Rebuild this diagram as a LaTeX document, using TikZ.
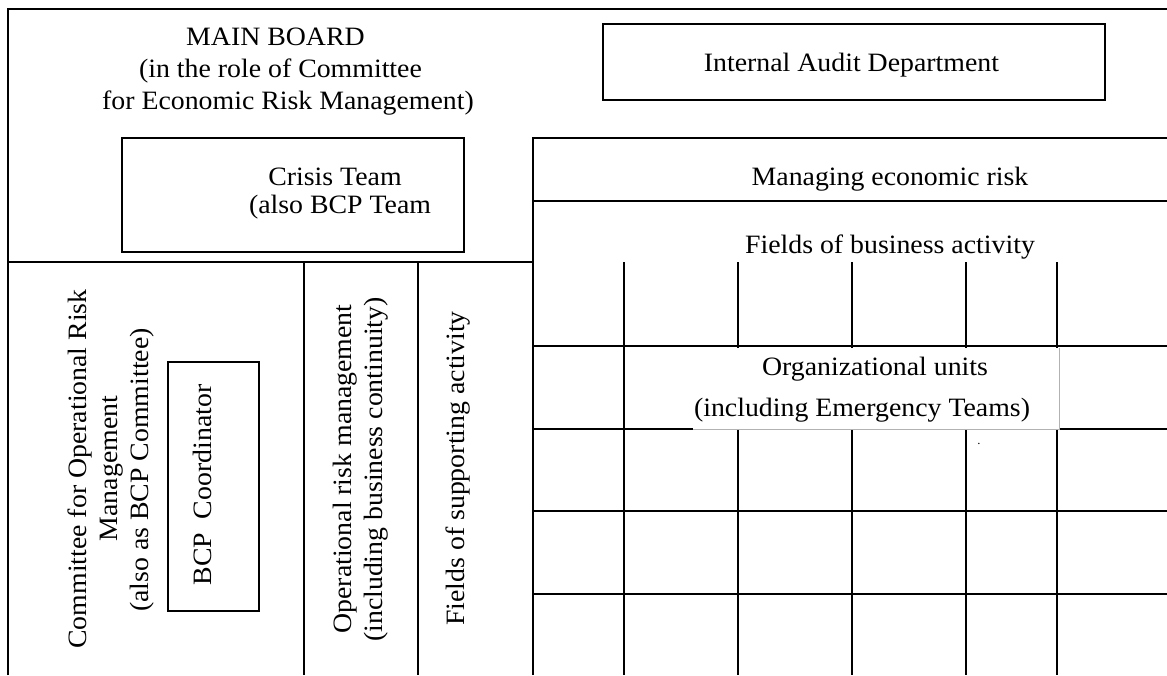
\documentclass[tikz,border=0pt]{standalone}
\usepackage{fontspec}
\setmainfont{Liberation Serif}[FakeStretch=1.05]
\begin{document}
\begin{tikzpicture}[x=1pt,y=-1pt,
  ln/.style={line width=1.4pt, black},
  box/.style={draw, line width=1.4pt, inner sep=0, fill=none},
  lbl/.style={font=\fontsize{26.5}{30}\selectfont, inner sep=0, anchor=base},
  rlbl/.style={lbl, rotate=90},
  faint/.style={line width=0.7pt, draw=black!30}]
\useasboundingbox (0,0) rectangle (1167,675);

% outer frame and partitions
\draw[ln] (8,675) -- (8,9) -- (1167,9);
\draw[ln] (8,262) -- (533,262);
\draw[ln] (304,262) -- (304,675);
\draw[ln] (418,262) -- (418,675);
\draw[ln] (533,675) -- (533,138) -- (1167,138);
\draw[ln] (533,201) -- (1167,201);

% grid of business activity
\foreach \gx in {624,738,852,966,1057} \draw[ln] (\gx,262) -- (\gx,675);
\foreach \gy in {346,429,511,594} \draw[ln] (533,\gy) -- (1167,\gy);

% white label box over the grid
\node[fill=white, inner sep=0, minimum width=366pt, minimum height=81.5pt] (oubox) at (876,388.5) {};
\draw[faint] (oubox.south west) -- (oubox.south east) -- (oubox.north east);

% boxes
\node[box, minimum width=502pt, minimum height=76pt] (audit) at (854,62) {};
\node[box, minimum width=342pt, minimum height=114pt] (crisis) at (293,195) {};
\node[box, minimum width=91pt, minimum height=249pt] (bcp) at (213.5,486.5) {};

% texts
\node[lbl] (mb1) at (275.5,45) {MAIN BOARD};
\node[lbl] (mb2) at (280.5,77) {(in the role of Committee};
\node[lbl] (mb3) at (288,109) {for Economic Risk Management)};
\node[lbl] (aud) at (851.5,71) {Internal Audit Department};
\node[lbl] (cr1) at (335,185) {Crisis Team};
\node[lbl] (cr2) at (340,213) {(also BCP Team};
\node[lbl] (mer) at (890,185) {Managing economic risk};
\node[lbl] (fba) at (890,253) {Fields of business activity};
\node[lbl] (ou1) at (875,375.5) {Organizational units};
\node[lbl] (ou2) at (862,416.5) {(including Emergency Teams)};
\node[inner sep=0, anchor=base, font=\fontsize{12}{12}\selectfont] (dot) at (979,444) {.};

\node[rlbl] (co1) at (86,469) {Committee for Operational Risk};
\node[rlbl] (co2) at (117,468.5) {Management};
\node[rlbl] (co3) at (148,470) {(also as BCP Committee)};
\node[rlbl] (bcpt) at (211,485) {BCP\ \ Coordinator};
\node[rlbl] (or1) at (351,469) {Operational risk management};
\node[rlbl] (or2) at (382,469.5) {(including business continuity)};
\node[rlbl] (fsa) at (464,468.5) {Fields of supporting activity};
\end{tikzpicture}
\end{document}
